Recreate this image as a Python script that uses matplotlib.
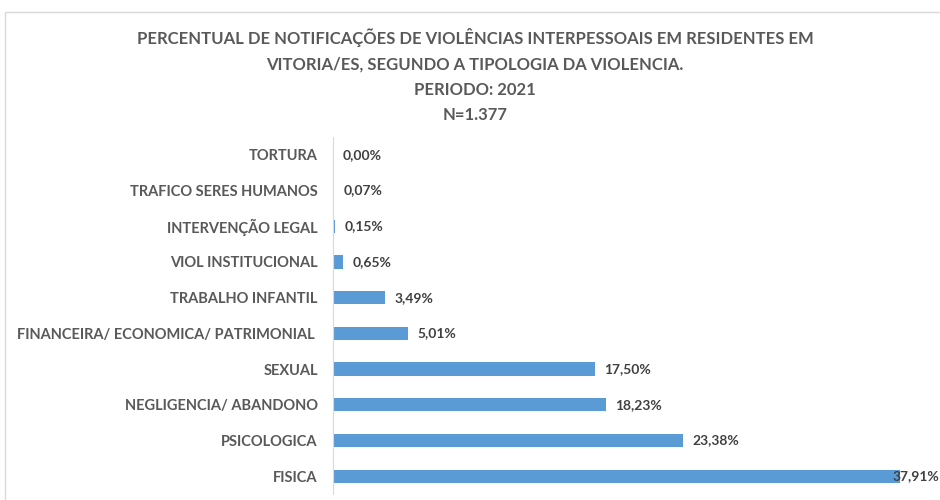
import matplotlib.pyplot as plt
from matplotlib.patches import Rectangle

categorias = ['FISICA', 'PSICOLOGICA', 'NEGLIGENCIA/ ABANDONO', 'SEXUAL',
              'FINANCEIRA/ ECONOMICA/ PATRIMONIAL ', 'TRABALHO INFANTIL',
              'VIOL INSTITUCIONAL', 'INTERVENÇÃO LEGAL', 'TRAFICO SERES HUMANOS', 'TORTURA']
percentuais = [37.91, 23.38, 18.23, 17.50, 5.01, 3.49, 0.65, 0.15, 0.07, 0.00]
rotulos = ['37,91%', '23,38%', '18,23%', '17,50%', '5,01%', '3,49%',
           '0,65%', '0,15%', '0,07%', '0,00%']

titulo = ('PERCENTUAL DE NOTIFICAÇÕES DE VIOLÊNCIAS INTERPESSOAIS EM RESIDENTES EM\n'
          'VITORIA/ES, SEGUNDO A TIPOLOGIA DA VIOLENCIA.\n'
          'PERIODO: 2021\n'
          'N=1.377')

fonte = ['Lato', 'DejaVu Sans']
plt.rcParams['font.family'] = fonte

fig = plt.figure(figsize=(9.4, 5), dpi=100)
fig.patches.append(Rectangle((5 / 940, -0.1), 1.2, 1 - 12 / 500 + 0.1,
                             transform=fig.transFigure, fill=False,
                             edgecolor='#D9D9D9', linewidth=1))

ax = fig.add_axes([333 / 940, 6 / 500, 1 - 333 / 940, (494 - 137) / 500])
y = list(range(len(categorias)))
ax.barh(y, percentuais, height=0.37, color='#5B9BD5')
ax.set_xlim(0, 40.6)
ax.set_ylim(-0.5, 9.5)
ax.set_yticks(y)
ax.set_yticklabels(categorias, fontsize=10.5, fontweight='bold', color='#595959')
ax.tick_params(axis='y', length=0, pad=11)
ax.set_xticks([])
for s in ['top', 'right', 'bottom']:
    ax.spines[s].set_visible(False)
ax.spines['left'].set_color('#D9D9D9')

for i, (v, r) in enumerate(zip(percentuais, rotulos)):
    dx = -5 if v > 37 else 7
    ax.annotate(r, (v, i), xytext=(dx, 0), textcoords='offset points',
                va='center', ha='left', fontsize=10, fontweight='bold',
                color='#404040')

fig.text(475 / 940, 1 - 28 / 500, titulo, ha='center', va='top', fontsize=12,
         fontweight='bold', color='#595959', linespacing=1.72)

fig.savefig('out.png', dpi=100)
